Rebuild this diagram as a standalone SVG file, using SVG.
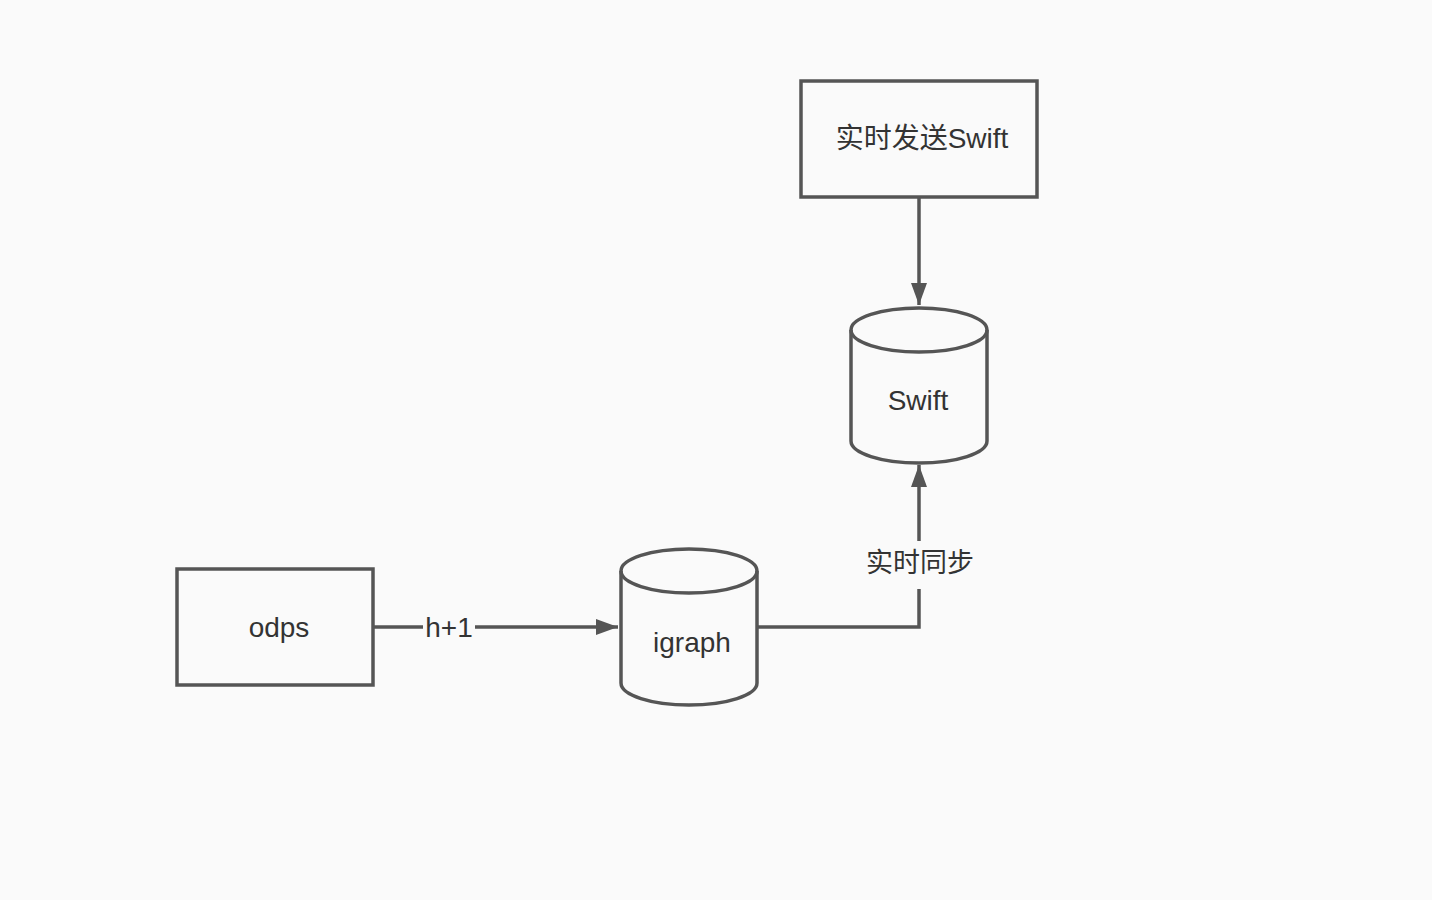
<svg xmlns="http://www.w3.org/2000/svg" width="1432" height="900" viewBox="0 0 1432 900">
<style>
.s{fill:none;stroke:#555;stroke-width:3.5}
.f{fill:#fafafa;stroke:#555;stroke-width:3.5}
.t{font-family:"Liberation Sans","Noto Sans CJK SC",sans-serif;font-size:28px;fill:#333;text-anchor:middle;dominant-baseline:central}
.c{font-size:27px}
</style>
<defs>
<marker id="ah" viewBox="0 0 22 16" refX="22" refY="8" markerWidth="22" markerHeight="16" markerUnits="userSpaceOnUse" orient="auto">
<path d="M0,0 L22,8 L0,16 z" fill="#555"/>
</marker>
</defs>
<rect width="1432" height="900" fill="#fafafa"/>
<g id="connectors">
<path class="s" d="M919,197 V305" marker-end="url(#ah)"/>
<path class="s" d="M373,627 H618" marker-end="url(#ah)"/>
<path class="s" d="M757,627 H919 V465" marker-end="url(#ah)"/>
<rect x="423" y="611" width="52" height="32" fill="#fafafa"/>
<text class="t" x="449" y="627">h+1</text>
<rect x="862" y="541" width="116" height="48" fill="#fafafa"/>
<text class="t c" x="920" y="563">实时同步</text>
</g>
<g id="send">
<rect class="f" x="801" y="81" width="236" height="116"/>
<text class="t" x="922" y="138">实时发送Swift</text>
</g>
<g id="swift">
<path class="f" d="M851,330 A68,22 0 0 1 987,330 V441 A68,22 0 0 1 851,441 Z"/>
<path class="s" d="M851,330 A68,22 0 0 0 987,330"/>
<text class="t" x="918" y="400">Swift</text>
</g>
<g id="igraph">
<path class="f" d="M621,571 A68,22 0 0 1 757,571 V683 A68,22 0 0 1 621,683 Z"/>
<path class="s" d="M621,571 A68,22 0 0 0 757,571"/>
<text class="t" x="692" y="642">igraph</text>
</g>
<g id="odps">
<rect class="f" x="177" y="569" width="196" height="116"/>
<text class="t" x="279" y="627">odps</text>
</g>
</svg>
